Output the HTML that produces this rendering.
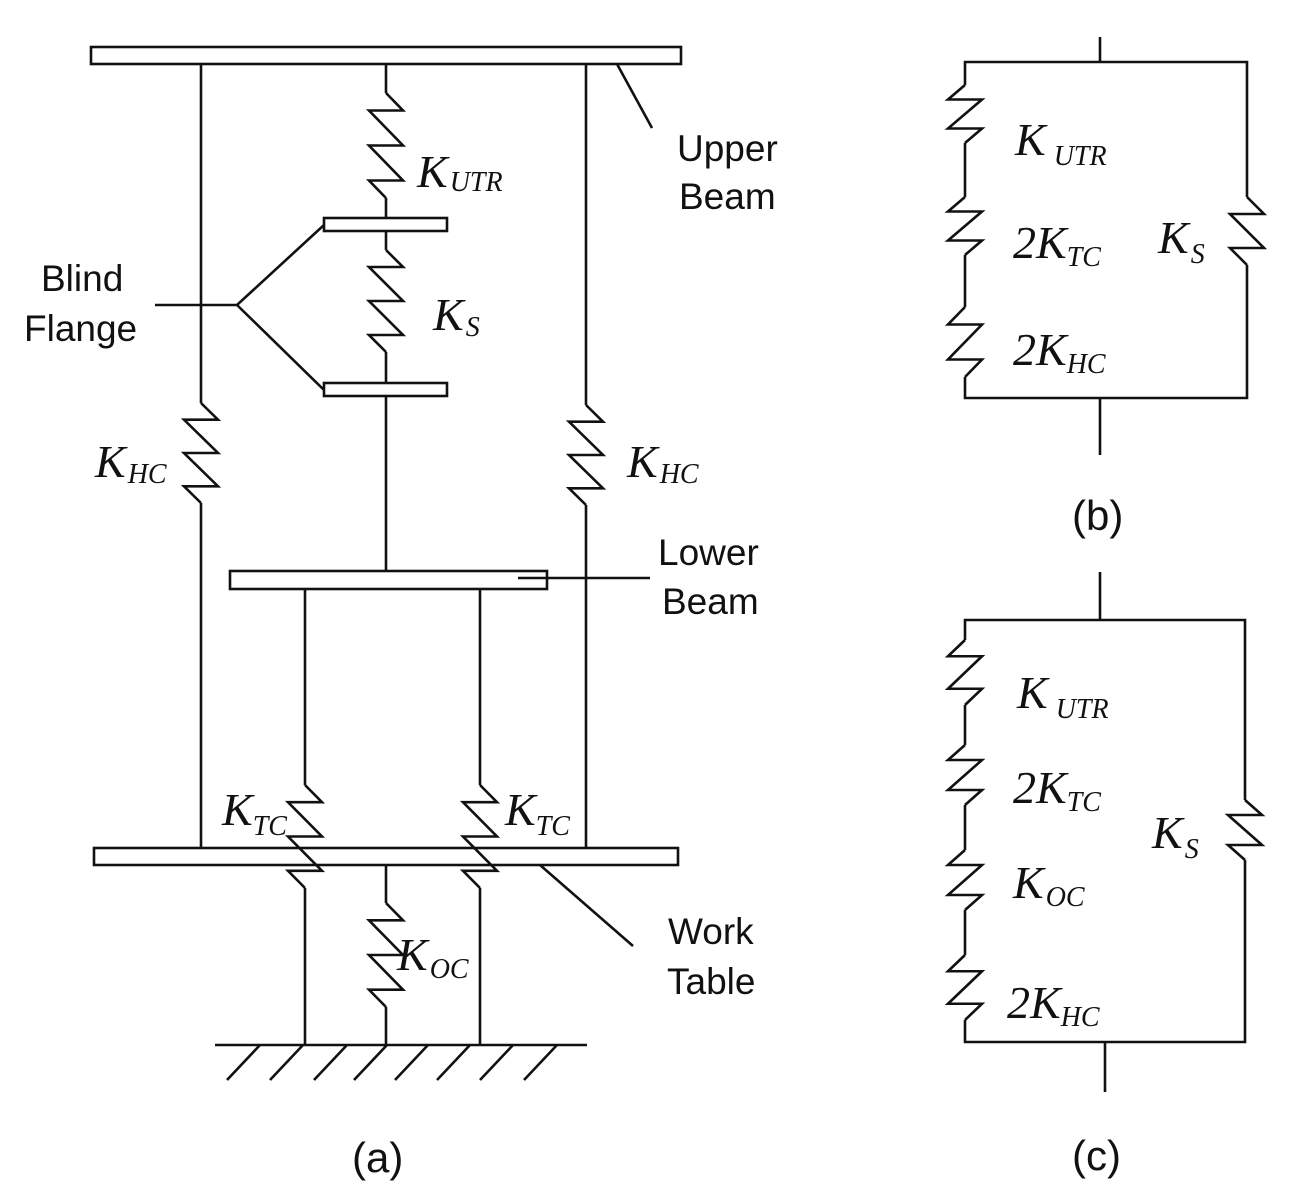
<!DOCTYPE html>
<html><head><meta charset="utf-8"><style>
html,body{margin:0;padding:0;background:#fff;}
svg{display:block}
.k{font-family:"Liberation Serif",serif;font-style:italic;font-size:46px;fill:#111}
.s{font-size:28px}
.t{font-family:"Liberation Sans",sans-serif;font-size:37px;fill:#111}
.c{font-family:"Liberation Sans",sans-serif;font-size:42px;fill:#111}
</style></head><body>
<svg id="g" width="1295" height="1203" viewBox="0 0 1295 1203" xmlns="http://www.w3.org/2000/svg">
<g fill="none" stroke="#111" stroke-width="2.6">
<rect x="91" y="47" width="590" height="17" fill="#fff"/>
<rect x="324" y="218" width="123" height="13"/>
<rect x="324" y="383" width="123" height="13"/>
<rect x="230" y="571" width="317" height="18"/>
<rect x="94" y="848" width="584" height="17"/>
<line x1="201" y1="64" x2="201" y2="403"/><line x1="201" y1="503" x2="201" y2="848"/>
<line x1="586" y1="64" x2="586" y2="405"/><line x1="586" y1="505" x2="586" y2="848"/>
<line x1="386" y1="64" x2="386" y2="93"/><line x1="386" y1="198" x2="386" y2="218"/>
<line x1="386" y1="231" x2="386" y2="250"/><line x1="386" y1="352" x2="386" y2="383"/>
<line x1="386" y1="396" x2="386" y2="571"/>
<line x1="305" y1="589" x2="305" y2="785"/><line x1="305" y1="888" x2="305" y2="1045"/>
<line x1="480" y1="589" x2="480" y2="785"/><line x1="480" y1="888" x2="480" y2="1045"/>
<line x1="386" y1="865" x2="386" y2="903"/><line x1="386" y1="1007" x2="386" y2="1045"/>
<line x1="215" y1="1045" x2="587" y2="1045"/>
<path d="M260 1045L227 1080M303 1045L270 1080M347 1045L314 1080M387 1045L354 1080M428 1045L395 1080M470 1045L437 1080M513 1045L480 1080M557 1045L524 1080"/>
<line x1="617" y1="64" x2="652" y2="128"/>
<path d="M155 305L237 305L324 225M237 305L324 390"/>
<line x1="518" y1="578" x2="650" y2="578"/>
<line x1="540" y1="865" x2="633" y2="946"/>
<line x1="1100" y1="37" x2="1100" y2="62"/>
<path d="M965 85L965 62L1247 62L1247 197M1247 265L1247 398L965 398L965 377M965 143L965 197M965 255L965 307"/>
<line x1="1100" y1="398" x2="1100" y2="455"/>
<line x1="1100" y1="572" x2="1100" y2="620"/>
<path d="M965 640L965 620L1245 620L1245 800M1245 860L1245 1042L965 1042L965 1020M965 705L965 745M965 805L965 850M965 910L965 955"/>
<line x1="1105" y1="1042" x2="1105" y2="1092"/>
<g id="springs"></g>
</g>
<text class="k" x="417" y="187">K<tspan class="s" dx="2" dy="4">UTR</tspan></text>
<text class="k" x="433" y="330">K<tspan class="s" dx="2" dy="6">S</tspan></text>
<text class="k" x="95" y="477">K<tspan class="s" dx="2" dy="6">HC</tspan></text>
<text class="k" x="627" y="477">K<tspan class="s" dx="2" dy="6">HC</tspan></text>
<text class="k" x="222" y="825">K<tspan class="s" dx="0" dy="10">TC</tspan></text>
<text class="k" x="505" y="825">K<tspan class="s" dx="0" dy="10">TC</tspan></text>
<text class="k" x="397" y="970">K<tspan class="s" dx="2" dy="8">OC</tspan></text>
<text class="t" x="677" y="161">Upper</text><text class="t" x="679" y="209">Beam</text>
<text class="t" x="41" y="291">Blind</text><text class="t" x="24" y="341">Flange</text>
<text class="t" x="658" y="565">Lower</text><text class="t" x="662" y="614">Beam</text>
<text class="t" x="668" y="944">Work</text><text class="t" x="667" y="994">Table</text>
<text class="c" x="352" y="1172">(a)</text>
<text class="k" x="1015" y="155">K<tspan class="s" dx="8" dy="10">UTR</tspan></text>
<text class="k" x="1013" y="258">2K<tspan class="s" dx="0" dy="8">TC</tspan></text>
<text class="k" x="1158" y="253">K<tspan class="s" dx="2" dy="10">S</tspan></text>
<text class="k" x="1013" y="365">2K<tspan class="s" dx="0" dy="8">HC</tspan></text>
<text class="c" x="1072" y="530">(b)</text>
<text class="k" x="1017" y="708">K<tspan class="s" dx="8" dy="10">UTR</tspan></text>
<text class="k" x="1013" y="803">2K<tspan class="s" dx="0" dy="8">TC</tspan></text>
<text class="k" x="1013" y="898">K<tspan class="s" dx="2" dy="8">OC</tspan></text>
<text class="k" x="1152" y="848">K<tspan class="s" dx="2" dy="10">S</tspan></text>
<text class="k" x="1007" y="1018">2K<tspan class="s" dx="0" dy="8">HC</tspan></text>
<text class="c" x="1072" y="1170">(c)</text>
</svg>
<script>
(function(){
var g=document.getElementById('springs');
function sp(x,y0,y1,w,n){
  var a=(y1-y0)/(2*n),p=[[x,y0]],y=y0+a;
  for(var i=0;i<n;i++){p.push([x+w,y]);p.push([x-w,y]);y+=2*a;}
  p.push([x,y1]);
  var e=document.createElementNS('http://www.w3.org/2000/svg','polyline');
  e.setAttribute('points',p.map(function(q){return q[0]+','+q[1]}).join(' '));
  g.appendChild(e);
}
sp(386,93,198,17,3);sp(386,250,352,17,3);
sp(201,403,503,17,3);sp(586,405,505,17,3);
sp(305,785,888,17,3);sp(480,785,888,17,3);sp(386,903,1007,17,3);
sp(965,85,143,-17,2);sp(965,197,255,-17,2);sp(965,307,377,-17,2);sp(1247,197,265,17,2);
sp(965,640,705,-17,2);sp(965,745,805,-17,2);sp(965,850,910,-17,2);sp(965,955,1020,-17,2);sp(1245,800,860,17,2);
})();
</script>
</body></html>
